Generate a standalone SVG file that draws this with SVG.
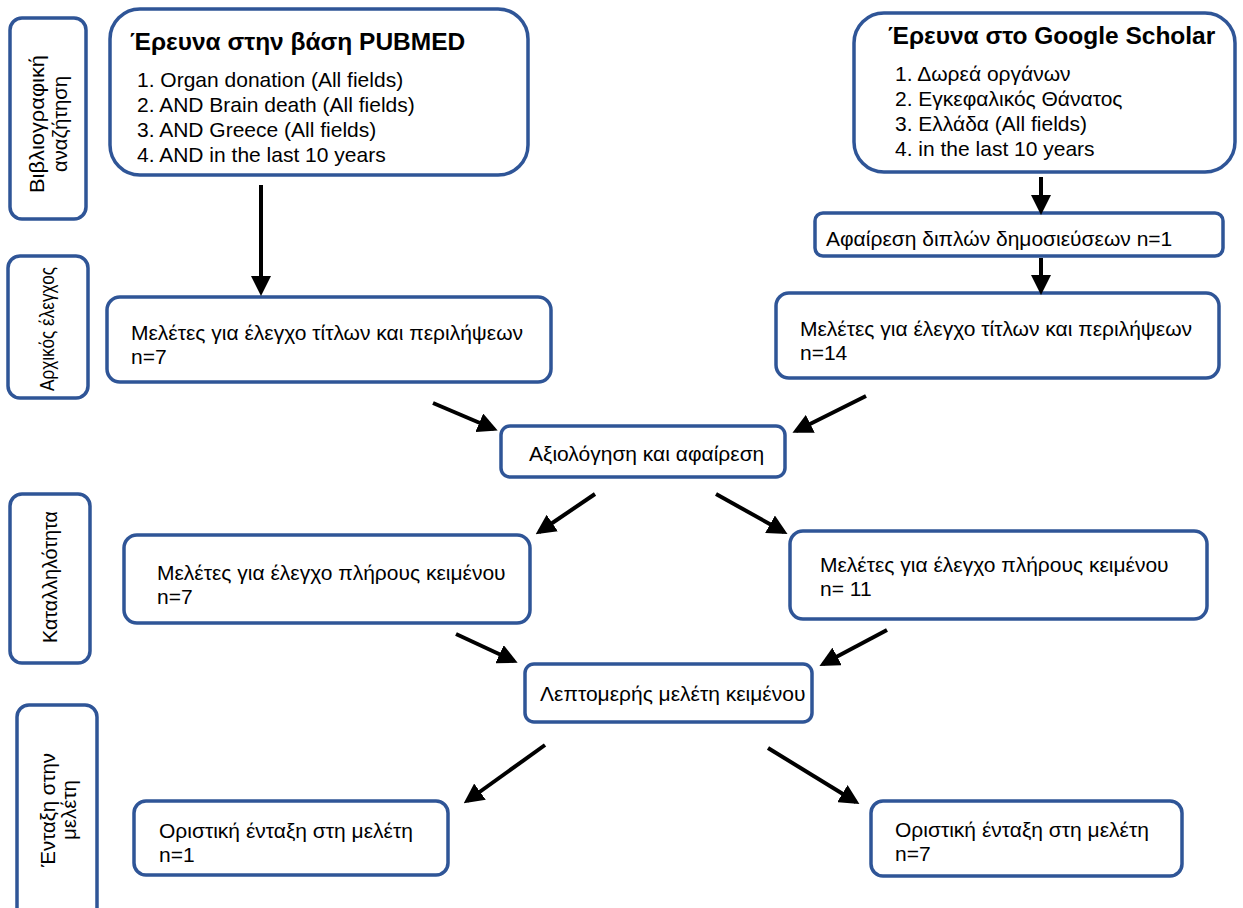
<svg xmlns="http://www.w3.org/2000/svg" width="1243" height="908" viewBox="0 0 1243 908">
<style>
.box{fill:#fff;stroke:#2F5597;stroke-width:3.5}
.t{font-family:"Liberation Sans",Arial,sans-serif;font-size:21px;fill:#000}
.title{font-family:"Liberation Sans",Arial,sans-serif;font-size:24.5px;font-weight:bold;fill:#000}
.side{font-family:"Liberation Sans",Arial,sans-serif;font-size:19.5px;fill:#000;text-anchor:middle}
.conn line{stroke:#000;stroke-width:4;marker-end:url(#ah)}
</style>
<defs>
<marker id="ah" viewBox="0 0 10 10" refX="8" refY="5" markerWidth="5" markerHeight="5" markerUnits="strokeWidth" orient="auto">
<path d="M0,0 L10,5 L0,10 z" fill="#000"/>
</marker>
</defs>
<rect width="1243" height="908" fill="#fff"/>

<g id="side1"><rect class="box" x="10" y="18" width="76" height="201" rx="12"/>
<text class="side" transform="translate(47,124) rotate(-90)"><tspan x="0" y="-3" textLength="138" lengthAdjust="spacingAndGlyphs">Βιβλιογραφική</tspan><tspan x="0" y="20" textLength="96" lengthAdjust="spacingAndGlyphs">αναζήτηση</tspan></text></g>
<g id="side2"><rect class="box" x="8" y="256" width="80" height="142" rx="12"/>
<text class="side" transform="translate(54,329) rotate(-90)" textLength="124" lengthAdjust="spacingAndGlyphs">Αρχικός έλεγχος</text></g>
<g id="side3"><rect class="box" x="10" y="494" width="80" height="169" rx="12"/>
<text class="side" transform="translate(57,577) rotate(-90)" textLength="132" lengthAdjust="spacingAndGlyphs">Καταλληλότητα</text></g>
<g id="side4"><rect class="box" x="17" y="705" width="80" height="215" rx="12"/>
<text class="side" transform="translate(57,810) rotate(-90)"><tspan x="0" y="-2" textLength="114" lengthAdjust="spacingAndGlyphs">Ένταξη στην</tspan><tspan x="0" y="19" textLength="60" lengthAdjust="spacingAndGlyphs">μελέτη</tspan></text></g>

<g id="pubmed"><rect class="box" x="110" y="9" width="418" height="166" rx="30"/>
<text class="title" x="130" y="50">Έρευνα στην βάση PUBMED</text>
<text class="t" x="137" y="87">1. Organ donation (All fields)</text>
<text class="t" x="137" y="112">2. AND Brain death (All fields)</text>
<text class="t" x="137" y="137">3. AND Greece (All fields)</text>
<text class="t" x="137" y="162">4. AND in the last 10 years</text></g>

<g id="scholar"><rect class="box" x="854" y="13" width="381" height="159" rx="30"/>
<text class="title" x="888" y="44">Έρευνα στο Google Scholar</text>
<text class="t" x="895" y="81">1. Δωρεά οργάνων</text>
<text class="t" x="895" y="106">2. Εγκεφαλικός Θάνατος</text>
<text class="t" x="895" y="131">3. Ελλάδα (All fields)</text>
<text class="t" x="895" y="156">4. in the last 10 years</text></g>

<g id="dupl"><rect class="box" x="815" y="213" width="408" height="43" rx="8"/>
<text class="t" x="826" y="246">Αφαίρεση διπλών δημοσιεύσεων n=1</text></g>

<g id="titlesL"><rect class="box" x="107" y="297" width="444" height="85" rx="13"/>
<text class="t" x="131" y="340">Μελέτες για έλεγχο τίτλων και περιλήψεων</text>
<text class="t" x="131" y="364">n=7</text></g>

<g id="titlesR"><rect class="box" x="776" y="293" width="443" height="85" rx="13"/>
<text class="t" x="800" y="336">Μελέτες για έλεγχο τίτλων και περιλήψεων</text>
<text class="t" x="800" y="360">n=14</text></g>

<g id="eval"><rect class="box" x="501" y="426" width="284" height="51" rx="9"/>
<text class="t" x="529" y="461">Αξιολόγηση και αφαίρεση</text></g>

<g id="fullL"><rect class="box" x="124" y="535" width="406" height="88" rx="13"/>
<text class="t" x="157" y="580">Μελέτες για έλεγχο πλήρους κειμένου</text>
<text class="t" x="157" y="604">n=7</text></g>

<g id="fullR"><rect class="box" x="790" y="531" width="417" height="88" rx="13"/>
<text class="t" x="820" y="572">Μελέτες για έλεγχο πλήρους κειμένου</text>
<text class="t" x="820" y="596">n= 11</text></g>

<g id="detail"><rect class="box" x="525" y="664" width="287" height="58" rx="9"/>
<text class="t" x="540" y="701">Λεπτομερής μελέτη κειμένου</text></g>

<g id="finalL"><rect class="box" x="134" y="801" width="314" height="74" rx="12"/>
<text class="t" x="159" y="838">Οριστική ένταξη στη μελέτη</text>
<text class="t" x="159" y="862">n=1</text></g>

<g id="finalR"><rect class="box" x="871" y="801" width="311" height="75" rx="12"/>
<text class="t" x="895" y="837">Οριστική ένταξη στη μελέτη</text>
<text class="t" x="895" y="861">n=7</text></g>

<g id="connectors" class="conn">
<line x1="261" y1="185" x2="261" y2="292"/>
<line x1="1041" y1="177" x2="1041" y2="211"/>
<line x1="1041" y1="258" x2="1041" y2="291"/>
<line x1="433" y1="403" x2="494" y2="429"/>
<line x1="866" y1="396" x2="796" y2="431"/>
<line x1="595" y1="494" x2="539" y2="532"/>
<line x1="716" y1="494" x2="784" y2="532"/>
<line x1="456" y1="634" x2="514" y2="661"/>
<line x1="887" y1="630" x2="823" y2="664"/>
<line x1="545" y1="745" x2="467" y2="801"/>
<line x1="768" y1="748" x2="856" y2="802"/>
</g>
</svg>
